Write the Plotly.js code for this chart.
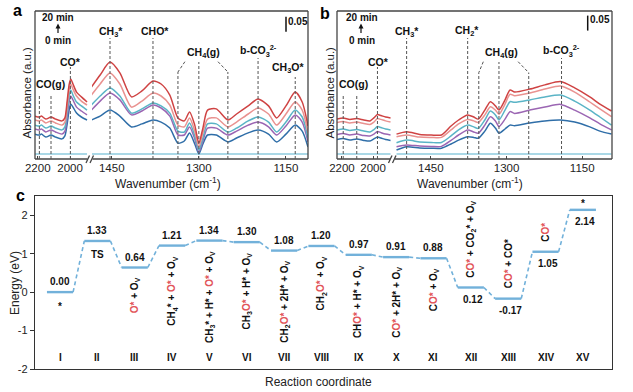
<!DOCTYPE html>
<html><head><meta charset="utf-8">
<script src="https://cdn.plot.ly/plotly-3.0.1.min.js"></script>
<style>html,body{margin:0;padding:0;background:#fff}#chart{width:633px;height:392px}</style>
</head><body><div id="chart"></div>
<script>
// ================= DATA =================
// Panel a – left segment (cm-1) and absorbance of five spectra (s1 earliest … s5 = 20 min)
const aLeftWN = [2217, 2190, 2177, 2150, 2118, 2090, 2050, 2032, 2018, 2006, 1996, 1982, 1960, 1930, 1895];
const aLeft_s5 = [.143,.140,.143,.133,.140,.133,.127,.137,.193,.247,.267,.250,.223,.207,.190];
const aLeft_s4 = [.130,.127,.130,.120,.127,.120,.113,.123,.177,.230,.250,.233,.210,.193,.180];
const aLeft_s3 = [.113,.110,.113,.103,.110,.103,.097,.107,.157,.210,.230,.213,.190,.177,.163];
const aLeft_s2 = [.100,.097,.100,.090,.097,.090,.083,.093,.140,.190,.210,.197,.173,.160,.147];
const aLeft_s1 = [.083,.080,.083,.073,.080,.073,.067,.077,.117,.163,.183,.173,.153,.140,.130];
// Panel a – right segment
const aRightWN = [1485,1470,1453,1436,1416,1398,1379,1365,1350,1336,1325,1316,1307,1300,1293,1285,1270,1250,1235,1215,1198,1180,1166,1150,1134,1122,1112];
const aRight_s5 = [.240,.280,.323,.287,.207,.227,.260,.250,.213,.137,.127,.157,.113,.053,.103,.163,.167,.130,.150,.177,.200,.177,.137,.177,.223,.190,.110];
const aRight_s4 = [.213,.250,.287,.250,.173,.193,.220,.210,.180,.113,.107,.137,.093,.040,.087,.133,.137,.107,.123,.150,.170,.150,.113,.150,.190,.163,.087];
const aRight_s3 = [.180,.210,.237,.210,.153,.167,.187,.177,.153,.093,.090,.120,.077,.030,.070,.117,.117,.090,.103,.127,.140,.123,.090,.123,.163,.140,.070];
const aRight_s2 = [.163,.193,.220,.197,.147,.160,.180,.170,.143,.080,.080,.107,.067,.023,.060,.103,.103,.080,.093,.113,.123,.107,.080,.110,.147,.123,.057];
const aRight_s1 = [.130,.143,.163,.143,.107,.117,.130,.123,.103,.053,.060,.087,.050,.017,.050,.080,.080,.057,.070,.087,.097,.083,.057,.083,.113,.093,.040];

// Panel b – left segment
const bLeftWN = [2232, 2192, 2150, 2105, 2060, 2020, 1995, 1972, 1950, 1920, 1888];
const bLeft_s5 = [.133,.137,.132,.135,.130,.127,.137,.148,.145,.140,.137];
const bLeft_s4 = [.122,.125,.120,.123,.118,.115,.123,.135,.132,.127,.123];
const bLeft_s3 = [.097,.100,.095,.098,.093,.090,.098,.108,.105,.100,.097];
const bLeft_s2 = [.082,.085,.080,.083,.078,.077,.083,.092,.088,.083,.080];
const bLeft_s1 = [.065,.068,.063,.067,.062,.060,.067,.073,.070,.065,.062];
// Panel b – right segment
const bRightWN = [1518,1498,1472,1449,1429,1410,1395,1377,1365,1356,1343,1332,1322,1315,1303,1293,1284,1254,1224,1193,1165,1135,1115,1092];
const bRight_s5 = [.083,.091,.082,.080,.080,.110,.130,.147,.140,.133,.163,.191,.177,.163,.197,.230,.223,.233,.247,.258,.237,.207,.183,.160];
const bRight_s4 = [.074,.080,.073,.072,.072,.097,.117,.132,.127,.122,.147,.174,.163,.149,.183,.216,.211,.220,.233,.243,.223,.190,.167,.141];
const bRight_s3 = [.054,.063,.057,.055,.055,.077,.097,.113,.107,.102,.130,.160,.147,.130,.163,.191,.189,.197,.207,.213,.193,.163,.140,.113];
const bRight_s2 = [.041,.047,.043,.042,.042,.062,.080,.097,.090,.086,.113,.141,.127,.108,.133,.158,.152,.163,.173,.182,.163,.137,.117,.097];
const bRight_s1 = [.030,.041,.037,.036,.036,.050,.063,.074,.072,.069,.093,.119,.103,.086,.100,.113,.111,.120,.127,.130,.123,.107,.093,.083];

// 0 min reference spectrum (flat)
const base0 = [0.017, 0.017];

// Panel c – reaction energy profile
const steps = ['I','II','III','IV','V','VI','VII','VIII','IX','X','XI','XII','XIII','XIV','XV'];
const energies = [0.00, 1.33, 0.64, 1.21, 1.34, 1.30, 1.08, 1.20, 0.97, 0.91, 0.88, 0.12, -0.17, 1.05, 2.14];
const energyLabels = ['0.00','1.33','0.64','1.21','1.34','1.30','1.08','1.20','0.97','0.91','0.88','0.12','-0.17','1.05','2.14'];

// x tick labels
const leftTicks = [2200, 2000];
const rightTicks = [1450, 1300, 1150];
const yTicksC = [-2, -1, 0, 1, 2];

// ================= STYLE / LAYOUT =================
const W = 633, H = 392;
const PX = x => x / W, PY = y => 1 - y / H;
const FONT = 'Liberation Sans, Arial, sans-serif';
const cols = {s5:'#cf4343', s4:'#e99290', s3:'#5ab4c6', s2:'#9b66b3', s1:'#2f6ea8', s0:'#aad8e6'};
const RED = '#e2555a';
const LEVEL = '#72b1da';

const traces = [];
function addSeries(xa, ya, wn, arrs) {
  traces.push({x:[wn[0], wn[wn.length-1]], y:base0, xaxis:xa, yaxis:ya, mode:'lines',
    line:{color:cols.s0, width:2}, hoverinfo:'skip'});
  ['s1','s2','s3','s4','s5'].forEach(k => {
    traces.push({x:wn, y:arrs[k], xaxis:xa, yaxis:ya, mode:'lines',
      line:{color:cols[k], width:1.5, shape:'spline', smoothing:0.7}, hoverinfo:'skip'});
  });
}
addSeries('x','y', aLeftWN, {s1:aLeft_s1,s2:aLeft_s2,s3:aLeft_s3,s4:aLeft_s4,s5:aLeft_s5});
addSeries('x2','y', aRightWN, {s1:aRight_s1,s2:aRight_s2,s3:aRight_s3,s4:aRight_s4,s5:aRight_s5});
addSeries('x3','y3', bLeftWN, {s1:bLeft_s1,s2:bLeft_s2,s3:bLeft_s3,s4:bLeft_s4,s5:bLeft_s5});
addSeries('x4','y3', bRightWN, {s1:bRight_s1,s2:bRight_s2,s3:bRight_s3,s4:bRight_s4,s5:bRight_s5});

// Panel c levels and connectors
const HW = 0.35;
const lvX = [], lvY = [], cnX = [], cnY = [];
energies.forEach((e, i) => {
  const c = i + 1;
  lvX.push(c - HW, c + HW, null); lvY.push(e, e, null);
  if (i < energies.length - 1) {
    cnX.push(c + HW, c + 1 - HW, null); cnY.push(e, energies[i+1], null);
  }
});
traces.push({x:cnX, y:cnY, xaxis:'x5', yaxis:'y5', mode:'lines', line:{color:LEVEL, width:1.6, dash:'4px,3px'}, hoverinfo:'skip'});
traces.push({x:lvX, y:lvY, xaxis:'x5', yaxis:'y5', mode:'lines', line:{color:LEVEL, width:2.4}, hoverinfo:'skip'});

const tickFont = {family:FONT, size:11.5, color:'#222'};
function segAxis(domain, range, tickvals, anchor) {
  return {domain, range, anchor, tickvals, ticktext: tickvals.map(String), ticks:'inside', ticklen:3,
    tickcolor:'#444', showgrid:false, zeroline:false, showline:false, tickfont:tickFont, ticklabelstandoff:0, fixedrange:true};
}
const yDom = [PY(159), PY(11)];
const layout = {
  width:W, height:H, margin:{l:0,r:0,t:0,b:0}, paper_bgcolor:'#fff', plot_bgcolor:'rgba(0,0,0,0)',
  showlegend:false, font:{family:FONT, color:'#222'},
  xaxis: segAxis([PX(35), PX(88)], [2217, 1889], leftTicks, 'y'),
  xaxis2: segAxis([PX(92), PX(308)], [1484, 1112], rightTicks, 'y'),
  yaxis: {domain:yDom, range:[0, 0.4933], anchor:'x', showticklabels:false, ticks:'', showgrid:false, zeroline:false, showline:false},
  xaxis3: segAxis([PX(337), PX(391)], [2232, 1885], leftTicks, 'y3'),
  xaxis4: segAxis([PX(395), PX(612)], [1521, 1091], rightTicks, 'y3'),
  yaxis3: {domain:yDom, range:[0, 0.4933], anchor:'x3', showticklabels:false, ticks:'', showgrid:false, zeroline:false, showline:false},
  xaxis5: {domain:[PX(35), PX(612)], range:[0.33, 15.78], anchor:'y5', showticklabels:false, ticks:'',
    showgrid:false, zeroline:false, showline:true, mirror:true, linecolor:'#333', linewidth:1.3},
  yaxis5: {domain:[PY(369), PY(196)], range:[-2, 2.5], anchor:'x5', tickvals:yTicksC, ticktext:yTicksC.map(String),
    ticks:'outside', ticklen:4, tickcolor:'#333', showgrid:false, zeroline:false, showline:true, mirror:true,
    linecolor:'#333', linewidth:1.3, tickfont:{family:FONT, size:11, color:'#222'}},
  shapes:[], annotations:[]
};

// frames for panels a and b (with axis break)
const L = {type:'line', xref:'paper', yref:'paper', line:{color:'#444', width:1.3}};
const seg = (a,b,c,d,ln) => Object.assign({}, L, {x0:PX(a), y0:PY(b), x1:PX(c), y1:PY(d)}, ln ? {line:ln} : {});
function frame(x0, x1, b0, b1, slash) {
  layout.shapes.push(seg(x0,11,x1,11), seg(x0,11,x0,159), seg(x1,11,x1,159), seg(x0,159,b0,159), seg(b1,159,x1,159));
  layout.shapes.push(seg(slash,163,slash+3.5,155.5), seg(slash+4,163,slash+7.5,155.5));
}
frame(35, 308, 87.5, 92.5, 86);
frame(337, 612, 390, 395, 388.5);

// time arrows (shaft + head)
[58, 361].forEach(cx => {
  layout.shapes.push(seg(cx, 33, cx, 27, {color:'#111', width:1.2}));
  layout.shapes.push({type:'path', xref:'paper', yref:'paper',
    path:`M ${PX(cx-2.5)} ${PY(28.5)} L ${PX(cx+2.5)} ${PY(28.5)} L ${PX(cx)} ${PY(23.5)} Z`,
    fillcolor:'#111', line:{width:0}});
});

// dashed peak marker lines
const dashL = {color:'#555', width:1, dash:'3px,2px'};
function vline(xa, wn, top) {
  layout.shapes.push({type:'line', xref:xa, yref:'paper', x0:wn, x1:wn, y0:PY(159), y1:PY(top), line:dashL});
}
function bracket(xa, wnA, yA, wnB, yB) {
  layout.shapes.push({type:'line', xref:xa, yref:'paper', x0:wnA, x1:wnB, y0:PY(yA), y1:PY(yB), line:dashL});
}
[['x',2190,95],['x',2118,95],['x',1998,67],['x2',1453,38],['x2',1379,38],['x2',1336,72],['x2',1300,62],
 ['x2',1250,72],['x2',1198,58],['x2',1134,77]].forEach(a => vline(...a));
bracket('x2', 1324, 61.7, 1336, 72); bracket('x2', 1267, 61.7, 1250, 72);
[['x3',2192,95],['x3',2105,95],['x3',1972,67],['x4',1498,38],['x4',1377,38],['x4',1355,72.7],['x4',1315,62],
 ['x4',1256,72.7],['x4',1191,58]].forEach(a => vline(...a));
bracket('x4', 1346, 61.7, 1355, 72.7); bracket('x4', 1277, 61.7, 1256, 72.7);

// scale bars (0.05 absorbance)
layout.shapes.push({type:'line', xref:'paper', yref:'y', x0:PX(286), x1:PX(286), y0:0.424, y1:0.474, line:{color:'#111', width:1.5}});
layout.shapes.push({type:'line', xref:'paper', yref:'y3', x0:PX(587.7), x1:PX(587.7), y0:0.428, y1:0.478, line:{color:'#111', width:1.5}});

// text helpers
const bold = (size, color) => ({family:FONT, size:size, color:color || '#111', weight:'bold'});
function txt(t, x, y, o) {
  layout.annotations.push(Object.assign({text:t, xref:'paper', yref:'paper', x:PX(x), y:PY(y),
    showarrow:false, xanchor:'center', yanchor:'middle', font:bold(10.5)}, o||{}));
}
// panel letters
txt('a', 17, 11, {font:bold(16, '#000')});
txt('b', 325, 13, {font:bold(16, '#000')});
txt('c', 20, 195, {font:bold(16, '#000')});
// time labels
[58.3, 361.5].forEach(cx => {
  txt('20 min', cx, 17.3, {font:bold(10)});
  txt('0 min', cx, 40, {font:bold(10)});
});
txt('0.05', 298, 21, {font:bold(10)});
txt('0.05', 599.5, 20, {font:bold(10)});
// peak labels panel a
txt('CO(g)', 50, 84); txt('CO*', 70, 61.7); txt('CH<sub>3</sub>*', 111, 32.3);
txt('CHO*', 155, 31); txt('CH<sub>4</sub>(g)', 203.3, 52.7);
txt('b-CO<sub>3</sub><sup>2-</sup>', 258.3, 50.7); txt('CH<sub>3</sub>O*', 288.3, 68.3);
// peak labels panel b
txt('CO(g)', 353.3, 84); txt('CO*', 378.3, 62.3); txt('CH<sub>3</sub>*', 406.7, 32.3);
txt('CH<sub>2</sub>*', 466.7, 31); txt('CH<sub>4</sub>(g)', 501.7, 52.7);
txt('b-CO<sub>3</sub><sup>2-</sup>', 561.7, 50.7);
// axis titles
const axF = {family:FONT, size:12, color:'#222'};
txt('Absorbance (a.u.)', 26.5, 93, {textangle:-90, font:{family:FONT, size:11.5, color:'#222'}});
txt('Absorbance (a.u.)', 329.5, 93, {textangle:-90, font:{family:FONT, size:11.5, color:'#222'}});
txt('Wavenumber (cm<sup>-1</sup>)', 168, 183, {font:axF});
txt('Wavenumber (cm<sup>-1</sup>)', 470, 183, {font:axF});
txt('Energy (eV)', 15, 283, {textangle:-90, font:{family:FONT, size:12, color:'#222'}});
txt('Reaction coordinate', 318, 381.5, {font:{family:FONT, size:12, color:'#222'}});

// panel c labels
const R = s => '<span style="color:' + RED + '">' + s + '</span>';
const OV = 'O<sub>V</sub>';
const species = {
  2: R('O*') + ' + ' + OV,
  3: 'CH<sub>4</sub>* + ' + R('O*') + ' + ' + OV,
  4: 'CH<sub>3</sub>* + H* + ' + R('O*') + ' + ' + OV,
  5: 'CH<sub>3</sub>' + R('O*') + ' + H* + ' + OV,
  6: 'CH<sub>2</sub>' + R('O*') + ' + 2H* + ' + OV,
  7: 'CH<sub>2</sub>' + R('O*') + ' + ' + OV,
  8: 'CH' + R('O*') + ' + H* + ' + OV,
  9: 'C' + R('O*') + ' + 2H* + ' + OV,
  10: 'C' + R('O*') + ' + ' + OV,
  11: 'C' + R('O*') + ' + CO<sub>2</sub>* + ' + OV,
  12: 'C' + R('O*') + ' + CO*',
  13: 'C' + R('O*')
};
const cF = bold(10);
function cAnn(t, i, o) {
  layout.annotations.push(Object.assign({text:t, xref:'x5', yref:'y5', x:i+1, y:energies[i],
    showarrow:false, xanchor:'center', yanchor:'middle', font:cF}, o));
}
energies.forEach((e, i) => {
  const below = i >= 11;
  cAnn(energyLabels[i], i, {yshift: below ? -12 : 10.5, xshift: below ? 2 : 0});
  layout.annotations.push({text:steps[i], xref:'x5', yref:'paper', x:i+1, y:PY(357), showarrow:false,
    xanchor:'center', yanchor:'middle', font:cF});
  if (species[i]) {
    if (i >= 11) cAnn(species[i], i, {textangle:-90, yanchor:'bottom', yshift:8});
    else cAnn(species[i], i, {textangle:-90, yanchor:'top', yshift:-8});
  }
});
cAnn('TS', 1, {yshift:-14});
cAnn('*', 0, {yshift:-14});
cAnn('*', 14, {yshift:6});

Plotly.newPlot('chart', traces, layout, {staticPlot:true, displayModeBar:false});
</script></body></html>
